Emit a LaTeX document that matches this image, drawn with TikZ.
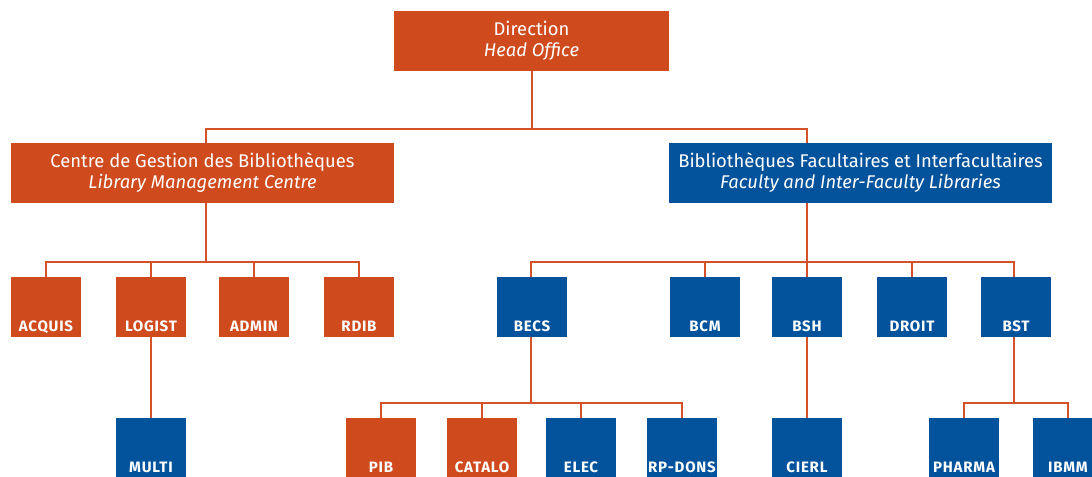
\documentclass[tikz,border=0pt]{standalone}
\usepackage{fontspec}
\setmainfont{Fira Sans}
\newfontfamily\lblfont[LetterSpace=5]{Fira Sans}
\definecolor{orng}{HTML}{CF4A1D}
\definecolor{blu}{HTML}{03529C}
\definecolor{lnc}{HTML}{D4522A}
\begin{document}
\begin{tikzpicture}[x=0.75pt,y=-0.75pt,
  big/.style 2 args={fill=#1, text=white, minimum width=#2*0.75pt, minimum height=45pt,
    inner sep=0pt, align=center, font=\fontsize{13.8}{15.8}\selectfont},
  small/.style 2 args={fill=#1, minimum width=52.5pt, minimum height=45pt, inner sep=0pt,
    label={[text=white, anchor=base, yshift=4.5pt, inner sep=0pt,
      font=\lblfont\bfseries\fontsize{11.3}{13}\selectfont]south:#2}},
  conn/.style={draw=lnc, line width=1.5pt}]
\path[use as bounding box, clip] (0,0) rectangle (1092,476);
\fill[white] (0,0) rectangle (1092,476);

% level 0
\node[big={orng}{275}] (dir) at (531.5,41) {Direction\\\textit{Head Office}};
% level 1
\node[big={orng}{383}] (cgb) at (202.5,173) {Centre de Gestion des Bibliothèques\\\textit{Library Management Centre}};
\node[big={blu}{383}] (bfi) at (860.5,173) {Bibliothèques Facultaires et Interfacultaires\\\textit{Faculty and Inter-Faculty Libraries}};
% level 2 left
\node[small={orng}{ACQUIS}] (acquis) at (46,307) {};
\node[small={orng}{LOGIST}] (logist) at (151,307) {};
\node[small={orng}{ADMIN}] (admin) at (254,307) {};
\node[small={orng}{RDIB}] (rdib) at (359,307) {};
% level 2 right
\node[small={blu}{BECS}] (becs) at (532,307) {};
\node[small={blu}{BCM}] (bcm) at (705,307) {};
\node[small={blu}{BSH}] (bsh) at (807,307) {};
\node[small={blu}{DROIT}] (droit) at (912,307) {};
\node[small={blu}{BST}] (bst) at (1016,307) {};
% level 3
\node[small={blu}{MULTI}] (multi) at (151,448) {};
\node[small={orng}{PIB}] (pib) at (381,448) {};
\node[small={orng}{CATALO}] (catalo) at (482,448) {};
\node[small={blu}{ELEC}] (elec) at (581,448) {};
\node[small={blu}{RP-DONS}] (rpdons) at (682,448) {};
\node[small={blu}{CIERL}] (cierl) at (807,448) {};
\node[small={blu}{PHARMA}] (pharma) at (964,448) {};
\node[small={blu}{IBMM}] (ibmm) at (1068,448) {};

% connectors
\coordinate (t) at (531.5,129);
\coordinate (l) at (206,262);
\coordinate (r) at (807,262);
\coordinate (bb) at (531,402.5);
\coordinate (sb) at (1014,402.5);

\draw[conn] (dir.south) -- (t);
\draw[conn] (cgb.north -| l) |- (t) -| (bfi.north -| r);

\draw[conn] (cgb.south -| l) -- (l);
\draw[conn] (acquis.north) |- (l) -| (rdib.north);
\draw[conn] (logist.north) -- (logist.north |- l);
\draw[conn] (admin.north) -- (admin.north |- l);

\draw[conn] (bfi.south -| r) -- (r);
\draw[conn] (becs.north -| bb) |- (r) -| (bst.north -| sb);
\draw[conn] (bcm.north) -- (bcm.north |- r);
\draw[conn] (bsh.north) -- (bsh.north |- r);
\draw[conn] (droit.north) -- (droit.north |- r);

\draw[conn] (logist.south) -- (multi.north);
\draw[conn] (becs.south -| bb) -- (bb);
\draw[conn] (pib.north) |- (bb) -| (rpdons.north);
\draw[conn] (catalo.north) -- (catalo.north |- bb);
\draw[conn] (elec.north) -- (elec.north |- bb);
\draw[conn] (bsh.south) -- (cierl.north);
\draw[conn] (bst.south -| sb) -- (sb);
\draw[conn] (pharma.north) |- (sb) -| (ibmm.north);
\end{tikzpicture}
\end{document}
